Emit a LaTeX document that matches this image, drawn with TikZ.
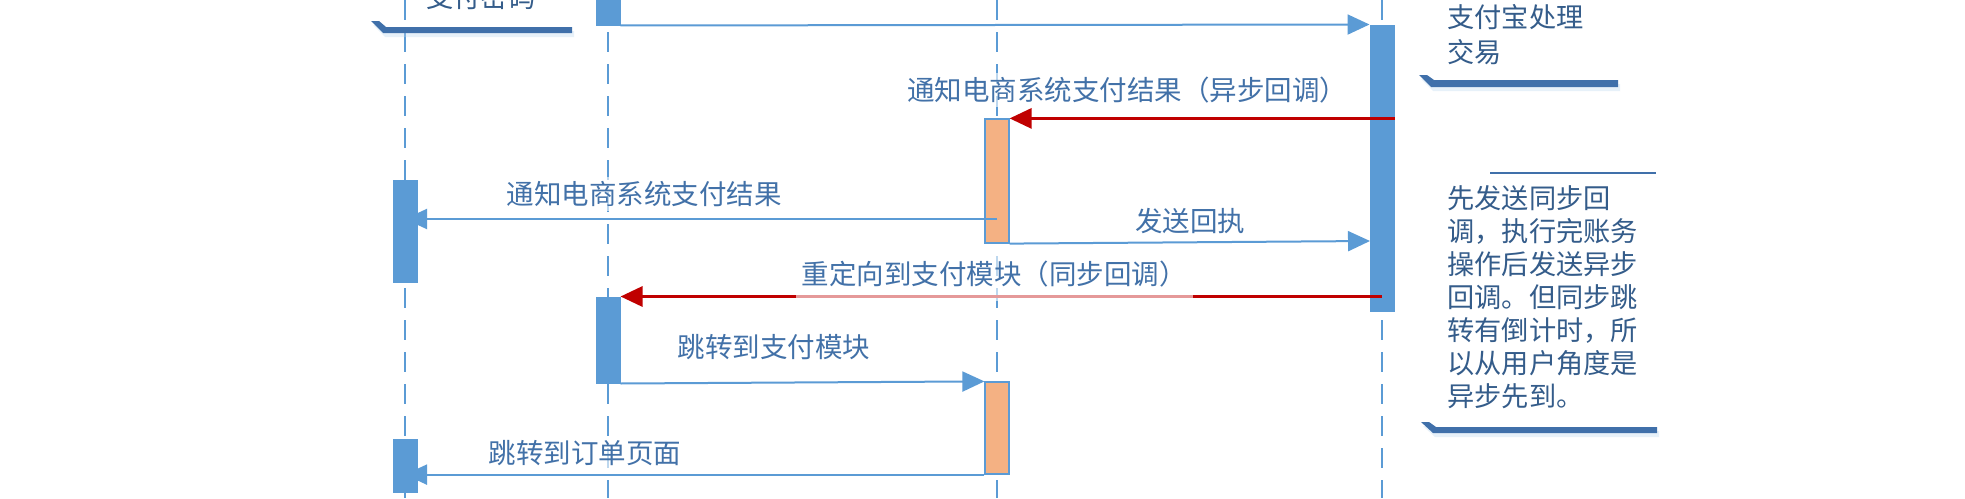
\documentclass[tikz,border=0pt]{standalone}
\usepackage{fontspec}
\newfontfamily\cjk{Noto Sans CJK SC}
\usetikzlibrary{arrows.meta,shadows,calc}
\definecolor{lblue}{RGB}{91,155,213}
\definecolor{orng}{RGB}{244,177,131}
\definecolor{darkred}{RGB}{192,0,0}
\definecolor{barblue}{RGB}{64,112,170}
\definecolor{lbltext}{RGB}{66,113,168}
\definecolor{notetext}{RGB}{52,92,138}
\tikzset{
  lifeline/.style={draw=lblue, line width=1pt, dash pattern=on 10pt off 6pt},
  actbox/.style={fill=lblue, draw=lblue, minimum width=12pt, inner sep=0pt, line width=0.5pt},
  ordbox/.style={fill=orng, draw=lblue, minimum width=12pt, inner sep=0pt, line width=0.6pt},
  msg/.style={draw=lblue, line width=1pt, -{Triangle[length=11pt,width=10pt]}},
  retmsg/.style={draw=darkred, line width=1.5pt, -{Triangle[length=11pt,width=10pt]}},
  lbl/.style={font=\cjk\fontsize{13.75pt}{16.5pt}\selectfont, text=lbltext, fill=white, fill opacity=0.6, text opacity=1, inner xsep=3pt, inner ysep=2pt},
  notetxt/.style={font=\cjk\fontsize{13.6pt}{16.5pt}\selectfont, text=notetext, align=left, inner sep=0pt},
  notebar/.style={fill=barblue, drop shadow={shadow xshift=1pt, shadow yshift=-2pt, fill=lblue!40, opacity=0.35}},
  noteline/.style={draw=barblue, line width=1pt, drop shadow={shadow xshift=1pt, shadow yshift=-2pt, fill=lblue!40, opacity=0.35}}
}
\begin{document}
\begin{tikzpicture}[x=0.5pt, y=-0.5pt]
\path[use as bounding box, fill=white] (0,0) rectangle (1965,498);

% lifelines
\coordinate (L1t) at (405,0);  \coordinate (L1b) at (405,498);
\coordinate (L2t) at (608,0);  \coordinate (L2b) at (608,498);
\coordinate (L3t) at (997,0);  \coordinate (L3b) at (997,498);
\coordinate (L4t) at (1382,0); \coordinate (L4b) at (1382,498);
\draw[lifeline] (L1t) -- (L1b);
\draw[lifeline] (L2t) -- (L2b);
\draw[lifeline] (L3t) -- (L3b);
\draw[lifeline] (L4t) -- (L4b);

% activation boxes (under the messages)
\node[actbox, minimum height=17.5pt] (topbox) at (608,7.5) {};
\node[actbox, minimum height=143pt] (rbox) at (1382,168) {};
\node[ordbox, minimum height=62pt] (obox1) at (997,181) {};
\node[actbox, minimum height=43pt] (mbox2) at (608,340) {};
\node[ordbox, minimum height=46pt] (obox2) at (997,428) {};

% messages
\draw[msg] (topbox.south east) -- (rbox.north west);
\draw[retmsg] (rbox.east |- obox1.north) -- (obox1.north east);
\coordinate (n2) at (997,219);
\draw[msg] (n2) -- (n2 -| L1t);
\coordinate (a3e) at (1370,241);
\draw[msg] (obox1.south east) -- (a3e);
\draw[retmsg] (rbox.center |- mbox2.north) -- (mbox2.north east);
\draw[msg] (mbox2.south east) -- (obox2.north west);
\draw[msg] (obox2.south west) -- (obox2.south west -| L1t);

% left activation boxes (over the arrow heads)
\node[actbox, minimum height=51pt] (lbox1) at (405,231) {};
\node[actbox, minimum height=26.5pt] (lbox3) at (405,465.5) {};

% labels
\node[lbl] (t1) at (1127,90) {通知电商系统支付结果（异步回调）};
\node[lbl] (t2) at (644,194) {通知电商系统支付结果};
\node[lbl] (t3) at (1190,221) {发送回执};
\node[lbl, minimum height=27pt] (t4) at (994,274) {重定向到支付模块（同步回调）};
\node[lbl] (t5) at (774,347) {跳转到支付模块};
\node[lbl] (t6) at (585,453) {跳转到订单页面};

% notes
\fill[notebar] (371,21) -- (379,21) -- (386,27) -- (572,27) -- (572,33) -- (383,33) -- cycle;
\node[notetxt, anchor=west] (nt0) at (426,-3) {支付密码};

\fill[notebar] (1419,75) -- (1427,75) -- (1434,80) -- (1618,80) -- (1618,87) -- (1431,87) -- cycle;
\node[notetxt, anchor=west, font=\cjk\fontsize{13.6pt}{17.5pt}\selectfont] (nt1) at (1447,35) {支付宝处理\\交易};

\draw[noteline] (1490,173) -- (1656,173);
\node[notetxt, anchor=west] (nt2) at (1447,297) {先发送同步回\\调，执行完账务\\操作后发送异步\\回调。但同步跳\\转有倒计时，所\\以从用户角度是\\异步先到。};
\fill[notebar] (1421,422) -- (1429,422) -- (1436,427) -- (1657,427) -- (1657,433) -- (1433,433) -- cycle;
\end{tikzpicture}
\end{document}
